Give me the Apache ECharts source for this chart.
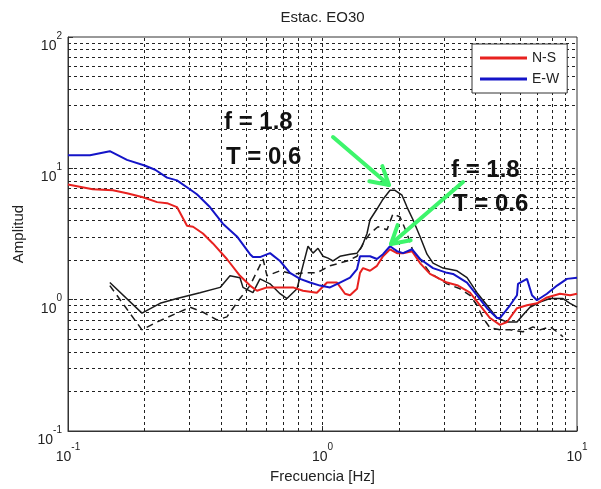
<!DOCTYPE html>
<html><head><meta charset="utf-8">
<script src="https://cdn.jsdelivr.net/npm/echarts@6/dist/echarts.min.js"></script>
<style>html,body{margin:0;padding:0;background:#fff}#c{width:601px;height:489px}</style>
</head><body><div id="c"></div>
<script>
// ---- data (frequency in Hz, amplitude) ----
const nsFreq = [0.1,0.125,0.15,0.1705,0.197,0.224,0.245,0.268,0.2935,0.31,0.339,0.371,0.421,0.474,0.519,0.553,0.605,0.681,0.766,0.838,0.95,1.042,1.14,1.226,1.283,1.367,1.404,1.443,1.537,1.637,1.729,1.842,1.962,2.072,2.247,2.416,2.645,3.085,3.408,3.798,4.158,4.552,4.98,5.31,5.81,6.36,6.96,7.62,8.575,9.39,10];
const nsAmp  = [7.54,6.92,6.8,6.46,6.03,5.53,5.43,5.07,3.66,3.59,3.19,2.68,2.04,1.52,1.28,1.17,1.24,1.24,1.24,1.17,1.13,1.35,1.35,1.11,1.08,1.21,1.6,1.74,1.66,1.81,2.14,2.42,2.26,2.26,2.34,1.9,1.57,1.35,1.28,1.13,0.906,0.725,0.642,0.676,0.861,0.906,0.938,1.04,1.11,1.08,1.11];

const ewFreq = [0.1,0.122,0.146,0.1705,0.2,0.22,0.245,0.268,0.302,0.321,0.361,0.406,0.461,0.519,0.533,0.568,0.622,0.681,0.745,0.816,0.893,0.978,1.07,1.171,1.283,1.367,1.404,1.537,1.637,1.729,1.842,1.962,2.072,2.247,2.416,2.718,3.085,3.257,3.697,4.047,4.43,4.85,4.98,5.455,5.81,5.864,6.36,6.655,6.96,7.62,8.35,9.13,10];
const ewAmp  = [12.6,12.6,13.5,11.6,10.5,9.76,8.5,8.1,6.9,6.35,5.07,3.79,3.03,2.22,2.11,2.11,2.26,1.97,1.6,1.44,1.35,1.28,1.24,1.35,1.47,1.71,2.14,2.14,2.04,2.22,2.55,2.34,2.26,2.42,2.04,1.74,1.6,1.57,1.35,1.08,0.861,0.725,0.725,0.906,1.08,1.32,1.44,1.08,0.99,1.11,1.28,1.44,1.47];

const bkFreq = [0.146,0.1953,0.23,0.268,0.33,0.396,0.433,0.474,0.487,0.533,0.568,0.622,0.681,0.725,0.794,0.831,0.877,0.918,0.96,1.005,1.051,1.1,1.171,1.283,1.367,1.43,1.496,1.537,1.637,1.729,1.842,1.927,2.053,2.148,2.268,2.416,2.574,2.718,2.976,3.377,3.697,4.047,4.43,4.85,5.31,5.81,6.133,6.535,7.152,7.83,8.81,9.39,10];
const bkAmp  = [1.35,0.79,0.938,1.02,1.13,1.24,1.52,1.47,1.24,1.13,1.44,1.32,1.11,1.02,1.21,1.71,2.55,2.26,2.46,2.14,2.07,1.97,2.14,2.22,2.26,2.55,3.19,4.06,4.9,5.82,6.8,6.8,6.24,5.07,4.06,3.03,2.22,1.9,1.74,1.66,1.47,1.13,0.906,0.725,0.676,0.676,0.763,0.876,0.96,1.02,1.02,0.938,0.876];

const bdFreq = [0.146,0.1953,0.224,0.302,0.339,0.385,0.421,0.474,0.519,0.584,0.605,0.681,0.766,0.838,0.95,1.07,1.249,1.367,1.443,1.537,1.652,1.793,1.892,2.016,2.148,2.268,2.416,2.645,3.085,3.47,3.798,4.047,4.272,4.552,4.98,5.455,6.133,6.715,7.152,7.83,8.35,8.81];
const bdAmp  = [1.28,0.589,0.676,0.876,0.804,0.7,0.74,1.02,1.28,2.04,1.52,1.66,1.57,1.6,1.6,1.81,1.97,2.14,2.68,3.19,3.59,3.41,4.5,4.27,3.19,2.34,2.04,1.6,1.32,1.21,1.08,0.906,0.725,0.61,0.589,0.589,0.569,0.621,0.589,0.621,0.569,0.522];

const seriesNames = ['N-S','E-W'];
const xTickExp = ['-1','0','1'];        // 10^-1 .. 10^1
const yTickExp = ['-1','0','1','2'];    // 10^-1 .. 10^2
const annText = ['f = 1.8','T = 0.6'];

// ---- helpers ----
const pair = (f,a) => f.map((v,i)=>[v,a[i]]);
const gridX = [], gridY = [];
[0.1,1].forEach(d=>{for(let k=2;k<=10;k++) gridX.push(+(k*d).toPrecision(3));});
[0.1,1,10].forEach(d=>{for(let k=2;k<=10;k++) gridY.push(+(k*d).toPrecision(3));});
gridX.pop(); gridY.pop();

const FONT = '"Liberation Sans", Arial, sans-serif';
const rich = {
  b:{fontSize:14, fontFamily:FONT, color:'#222', verticalAlign:'bottom', lineHeight:22},
  e:{fontSize:10, fontFamily:FONT, color:'#222', verticalAlign:'top', lineHeight:22}
};

const chart = echarts.init(document.getElementById('c'), null, {renderer:'canvas'});

function arrow(tail, tip){
  const dx = tip[0]-tail[0], dy = tip[1]-tail[1];
  const L = Math.hypot(dx,dy), ux=-dx/L, uy=-dy/L, h=20, c=Math.cos(Math.PI/6), s=Math.sin(Math.PI/6);
  const b1=[tip[0]+h*(ux*c-uy*s), tip[1]+h*(ux*s+uy*c)];
  const b2=[tip[0]+h*(ux*c+uy*s), tip[1]+h*(-ux*s+uy*c)];
  const st={stroke:'#3df56b', lineWidth:4, fill:null, lineCap:'round', lineJoin:'round'};
  return [
    {type:'polyline', shape:{points:[tail,tip]}, style:st, z:100},
    {type:'polyline', shape:{points:[b1,tip,b2]}, style:st, z:100}
  ];
}

const annStyle = {font:'bold 24px "Liberation Sans", Arial, sans-serif', fill:'#111', verticalAlign:'middle', align:'left'};

chart.setOption({
  animation:false,
  backgroundColor:'#fff',
  grid:{left:68, right:24, top:37, bottom:51, show:true, borderColor:'#333', borderWidth:1, backgroundColor:'transparent'},
  legend:{
    data:seriesNames, orient:'vertical', left:472, top:44, z:20,
    padding:[7,8,7,8], itemGap:7, itemWidth:47, itemHeight:3, icon:'rect',
    borderColor:'#333', borderWidth:1, backgroundColor:'#fff', borderRadius:0,
    textStyle:{fontSize:14, color:'#222', fontFamily:FONT}
  },
  xAxis:{
    type:'log', logBase:10, min:0.1, max:10,
    name:'Frecuencia [Hz]', nameLocation:'middle', nameGap:38,
    nameTextStyle:{fontSize:15, color:'#222', fontFamily:FONT},
    axisLine:{show:true, lineStyle:{color:'#333', width:1}},
    axisTick:{show:true, inside:true, length:5, lineStyle:{color:'#333'}},
    splitLine:{show:false},
    axisLabel:{margin:11, formatter:v=>'{b|10}{e|'+xTickExp[Math.round(Math.log10(v))+1]+'}', rich:rich}
  },
  yAxis:{
    type:'log', logBase:10, min:0.1, max:100,
    name:'Amplitud', nameLocation:'middle', nameGap:40,
    nameTextStyle:{fontSize:15, color:'#222', fontFamily:FONT},
    axisLine:{show:true, lineStyle:{color:'#333', width:1}},
    axisTick:{show:true, inside:true, length:5, lineStyle:{color:'#333'}},
    splitLine:{show:false},
    axisLabel:{margin:6, padding:[10,0,0,0], formatter:v=>'{b|10}{e|'+yTickExp[Math.round(Math.log10(v))+1]+'}', rich:rich}
  },
  series:[
    {type:'line', data:[], z:1, silent:true,
     markLine:{silent:true, z:1, symbol:['none','none'], label:{show:false}, animation:false,
       lineStyle:{type:[3,3], color:'#222', width:1},
       emphasis:{disabled:true},
       data:gridX.map(v=>({xAxis:v})).concat(gridY.map(v=>({yAxis:v})))}},
    {type:'line', name:'bk', data:pair(bkFreq,bkAmp), showSymbol:false, symbol:'none', z:2,
     lineStyle:{color:'#1a1a1a', width:1.5}},
    {type:'line', name:'bd', data:pair(bdFreq,bdAmp), showSymbol:false, symbol:'none', z:2,
     lineStyle:{color:'#1a1a1a', width:1.5, type:[7,5]}},
    {type:'line', name:seriesNames[0], data:pair(nsFreq,nsAmp), showSymbol:false, symbol:'none', z:3,
     color:'#e8211f', lineStyle:{color:'#e8211f', width:2}},
    {type:'line', name:seriesNames[1], data:pair(ewFreq,ewAmp), showSymbol:false, symbol:'none', z:3,
     color:'#1414c8', lineStyle:{color:'#1414c8', width:2}}
  ],
  graphic:[
    {type:'text', x:322.5, y:18, style:{text:'Estac. EO30', font:'15px '+FONT, fill:'#222', align:'center', verticalAlign:'middle'}},
    {type:'text', x:224, y:122, style:Object.assign({text:annText[0]},annStyle), z:100},
    {type:'text', x:226, y:157, style:Object.assign({text:annText[1]},annStyle), z:100},
    {type:'text', x:451, y:170, style:Object.assign({text:annText[0]},annStyle), z:100},
    {type:'text', x:453, y:204, style:Object.assign({text:annText[1]},annStyle), z:100}
  ].concat(arrow([333,137],[389,185])).concat(arrow([463,182],[391,244]))
});
</script></body></html>
